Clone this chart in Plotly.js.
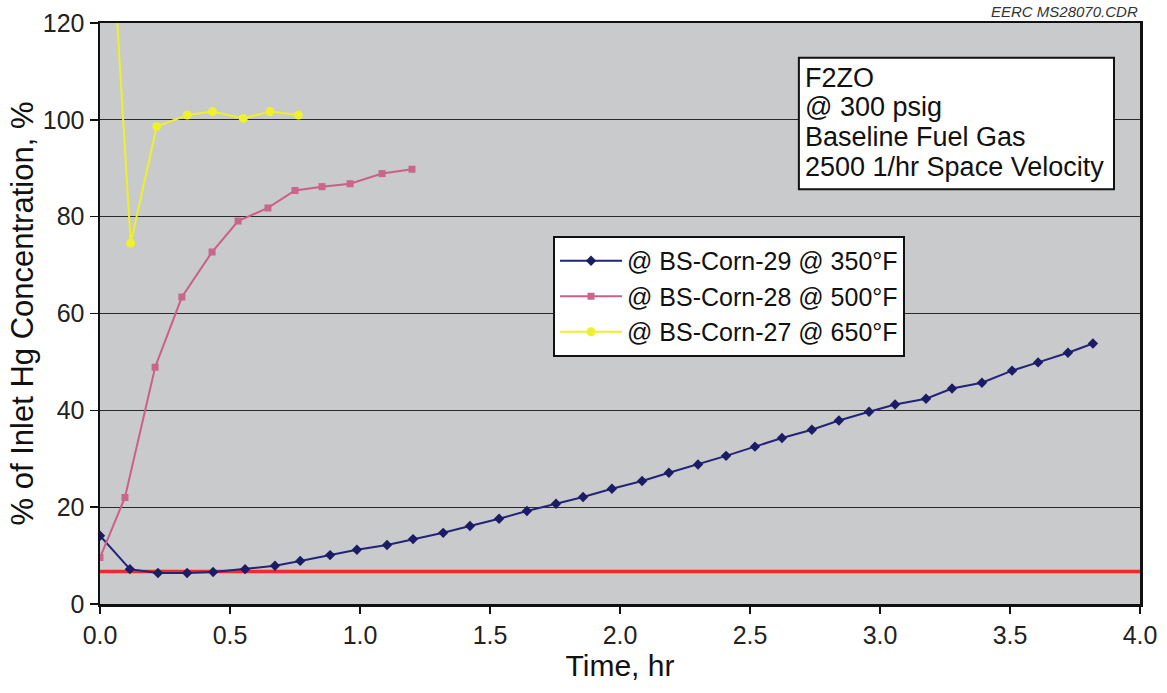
<!DOCTYPE html>
<html>
<head>
<meta charset="utf-8">
<script src="https://cdn.plot.ly/plotly-3.0.1.min.js"></script>
<style>
  html, body { margin: 0; padding: 0; background: #ffffff; }
  #chart { width: 1167px; height: 693px; }
</style>
</head>
<body>
<div id="chart"></div>
<script>
// ---- Data ----
const corn29Time = [0.0, 0.115, 0.223, 0.335, 0.435, 0.558, 0.673, 0.770, 0.885, 0.988,
  1.104, 1.204, 1.320, 1.423, 1.535, 1.642, 1.754, 1.858, 1.969, 2.085,
  2.188, 2.300, 2.408, 2.519, 2.623, 2.738, 2.842, 2.958, 3.058, 3.177,
  3.277, 3.392, 3.508, 3.608, 3.723, 3.819];
const corn29Value = [14.1, 7.2, 6.4, 6.4, 6.6, 7.2, 7.9, 8.9, 10.1, 11.2,
  12.2, 13.4, 14.7, 16.1, 17.6, 19.2, 20.7, 22.1, 23.8, 25.4,
  27.1, 28.8, 30.6, 32.5, 34.3, 36.0, 37.9, 39.7, 41.2, 42.4,
  44.5, 45.7, 48.2, 49.9, 51.9, 53.8];

const corn28Time = [0.0, 0.096, 0.212, 0.315, 0.431, 0.531, 0.646, 0.750, 0.854, 0.962, 1.085, 1.200];
const corn28Value = [9.6, 22.0, 48.9, 63.4, 72.7, 79.1, 81.8, 85.4, 86.2, 86.8, 88.9, 89.8];

const corn27Time = [0.062, 0.118, 0.218, 0.336, 0.433, 0.551, 0.654, 0.763];
const corn27Value = [124.0, 74.5, 98.6, 101.0, 101.7, 100.3, 101.7, 101.0];

const baselineTime = [-0.02, 4.0];
const baselineValue = [6.7, 6.7];

const seriesNames = ["@ BS-Corn-29 @ 350°F", "@ BS-Corn-28 @ 500°F", "@ BS-Corn-27 @ 650°F"];
const xTicks = [0, 0.5, 1.0, 1.5, 2.0, 2.5, 3.0, 3.5, 4.0];
const yTicks = [0, 20, 40, 60, 80, 100, 120];
const infoLines = ["F2ZO", "@ 300 psig", "Baseline Fuel Gas", "2500 1/hr Space Velocity"];

const FONT = "Liberation Sans, Arial, sans-serif";

const traces = [
  {
    x: baselineTime, y: baselineValue, mode: "lines", showlegend: false,
    line: { color: "#f02a2a", width: 3.5 }, hoverinfo: "skip"
  },
  {
    x: corn29Time, y: corn29Value, name: seriesNames[0], mode: "lines+markers",
    line: { color: "#23237a", width: 2 },
    marker: { symbol: "diamond", size: 8, color: "#1b1b66" }
  },
  {
    x: corn28Time, y: corn28Value, name: seriesNames[1], mode: "lines+markers",
    line: { color: "#cc5f86", width: 2 },
    marker: { symbol: "square", size: 7, color: "#c8668c" }
  },
  {
    x: corn27Time, y: corn27Value, name: seriesNames[2], mode: "lines+markers",
    line: { color: "#eef02a", width: 2 },
    marker: { symbol: "circle", size: 9, color: "#eef030" },
    cliponaxis: false
  }
];

// Info box: a white framed rectangle with one text line per entry
const infoX = 0.677;
const infoY = [0.906, 0.855, 0.803, 0.752];
const infoAnnotations = infoLines.map((t, i) => ({
  xref: "paper", yref: "paper", x: infoX, y: infoY[i], xanchor: "left", yanchor: "middle",
  text: t, align: "left", showarrow: false, borderpad: 0,
  font: { family: FONT, size: 27, color: "#111" }
}));

const layout = {
  width: 1167, height: 693,
  margin: { l: 100, r: 27, t: 23, b: 89 },
  paper_bgcolor: "#ffffff",
  plot_bgcolor: "#c8cacb",
  font: { family: FONT, size: 26, color: "#111111" },
  showlegend: true,
  xaxis: {
    range: [0, 4.0],
    tickvals: xTicks,
    tickformat: ".1f",
    ticks: "outside", ticklen: 7, tickcolor: "#111", tickwidth: 1.5,
    showgrid: false, zeroline: false,
    showline: true, linecolor: "#111", linewidth: 2.5, mirror: true,
    tickfont: { family: FONT, size: 25, color: "#222" },
    title: { text: "Time, hr", font: { family: FONT, size: 30, color: "#111" }, standoff: 7 }
  },
  yaxis: {
    range: [0, 120],
    tickvals: yTicks,
    ticks: "outside", ticklen: 8, tickcolor: "#111", tickwidth: 1.5,
    showgrid: true, gridcolor: "#2a2a2a", gridwidth: 1.3,
    zeroline: false,
    showline: true, linecolor: "#111", linewidth: 2.5, mirror: true,
    tickfont: { family: FONT, size: 25, color: "#222" },
    title: { text: "% of Inlet Hg Concentration, %", font: { family: FONT, size: 31, color: "#111" }, standoff: 0 }
  },
  legend: {
    x: 0.4356, y: 0.6334, xanchor: "left", yanchor: "top",
    bgcolor: "#ffffff", bordercolor: "#111", borderwidth: 2,
    font: { family: FONT, size: 25, color: "#111" },
    tracegroupgap: 0, itemwidth: 62
  },
  shapes: [
    {
      type: "rect", xref: "paper", yref: "paper", layer: "above",
      x0: 0.672, x1: 0.975, y0: 0.714, y1: 0.940,
      fillcolor: "#ffffff", line: { color: "#111", width: 2 }
    }
  ],
  annotations: infoAnnotations.concat([
    {
      xref: "paper", yref: "paper", x: 1.0, y: 1.0, xanchor: "right", yanchor: "bottom",
      yshift: 1,
      text: "<i>EERC MS28070.CDR</i>", showarrow: false,
      font: { family: FONT, size: 15, color: "#333" }
    }
  ])
};

Plotly.newPlot("chart", traces, layout, { displayModeBar: false, staticPlot: true });
</script>
</body>
</html>
